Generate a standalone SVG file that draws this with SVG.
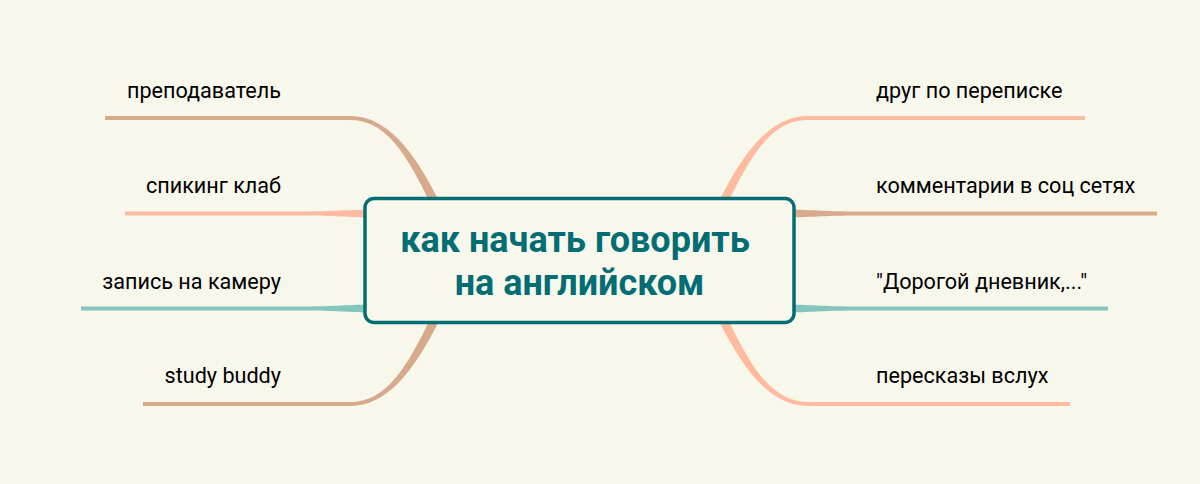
<svg xmlns="http://www.w3.org/2000/svg" width="1200" height="484" viewBox="0 0 1200 484">
<style>
.bg{fill:#f8f7ec}
.tan{fill:#d6aa8b}
.sal{fill:#ffbb9f}
.teal{fill:#86c5bd}
.lbl{font-family:Roboto,"Liberation Sans",sans-serif;font-size:21.6px;fill:#000}
.l{text-anchor:end}
.title{font-family:Roboto,"Liberation Sans",sans-serif;font-size:36px;font-weight:bold;fill:#036d74;text-anchor:middle}
.node{fill:#f8f7ec;stroke:#036d74;stroke-width:3.5}
</style>
<rect class="bg" x="0" y="0" width="1200" height="484"/>
<g id="connectors">
<path class="tan" d="M105,116 L350,116 C386,116 413,148.4 440,203 L432,207 C406,151.6 385,120 350,120 L105,120 Z"/>
<path class="sal" d="M125,211.5 L300,211.5 C330,211.5 345,210 370,209.5 L370,217.5 C345,217 330,215.5 300,215.5 L125,215.5 Z"/>
<path class="teal" d="M81,306.5 L300,306.5 C330,306.5 345,305 370,304.5 L370,312.5 C345,312 330,310.5 300,310.5 L81,310.5 Z"/>
<path class="tan" d="M143,406 L350,406 C386,406 413,373.6 440,319 L432,315 C406,370.4 385,402 350,402 L143,402 Z"/>
<path class="sal" d="M1085,116 L808,116 C772,116 745,148.4 718,203 L726,207 C752,151.6 773,120 808,120 L1085,120 Z"/>
<path class="tan" d="M1157,211.5 L858,211.5 C828,211.5 813,210 788,209.5 L788,217.5 C813,217 828,215.5 858,215.5 L1157,215.5 Z"/>
<path class="teal" d="M1108,306.5 L858,306.5 C828,306.5 813,305 788,304.5 L788,312.5 C813,312 828,310.5 858,310.5 L1108,310.5 Z"/>
<path class="sal" d="M1070,406 L808,406 C772,406 745,373.6 718,319 L726,315 C752,370.4 773,402 808,402 L1070,402 Z"/>
</g>
<g id="center">
<rect class="node" x="365" y="198.5" width="429" height="124" rx="9"/>
<text class="title" x="575" y="252">как начать говорить</text>
<text class="title" x="579.5" y="295">на английском</text>
</g>
<g id="n-teacher"><text class="lbl l" x="281" y="98">преподаватель</text></g>
<g id="n-club"><text class="lbl l" x="281" y="193">спикинг клаб</text></g>
<g id="n-camera"><text class="lbl l" x="281" y="289">запись на камеру</text></g>
<g id="n-buddy"><text class="lbl l" x="281" y="383">study buddy</text></g>
<g id="n-penpal"><text class="lbl" x="876" y="98">друг по переписке</text></g>
<g id="n-comments"><text class="lbl" x="876" y="193">комментарии в соц сетях</text></g>
<g id="n-diary"><text class="lbl" x="876" y="289">"Дорогой дневник,..."</text></g>
<g id="n-retell"><text class="lbl" x="876" y="383">пересказы вслух</text></g>
</svg>
